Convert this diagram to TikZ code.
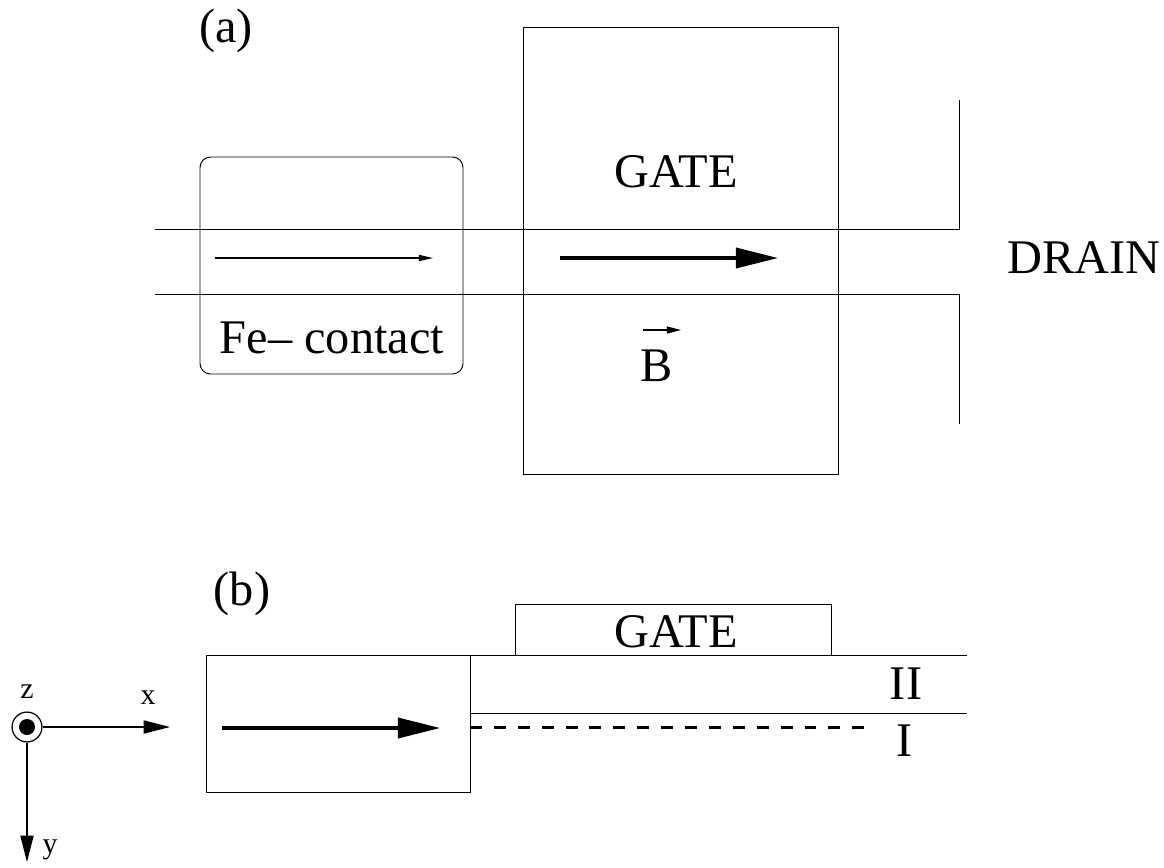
\documentclass[tikz,border=0pt]{standalone}
\usepackage{fontspec}
\setmainfont{Liberation Serif}
\usetikzlibrary{arrows.meta}
\tikzset{
    big/.style={line width=1.8pt,-{Triangle[length=24pt,width=11.5pt]}},
    mid/.style={line width=0.7pt,-{Triangle[length=15pt,width=7.5pt]}},
    tiny/.style={line width=0.6pt,-{Triangle[length=8pt,width=4pt]}},
    lab/.style={inner sep=0pt,font=\fontsize{27.5}{30}\selectfont},
    smalllab/.style={inner sep=0pt,font=\fontsize{17}{19}\selectfont},
    wire/.style={line width=0.55pt}
}
\begin{document}
\begin{tikzpicture}[x=0.02cm,y=-0.02cm]
    \useasboundingbox (0,0) rectangle (1164,867);
    % Coordinates of the top view (a)
    \coordinate (GA)  at (523,27);  % Gate top left
    \coordinate (GB)  at (838,474); % Gate bottom right
    \coordinate (FA)  at (200,157); % Contact top left
    \coordinate (FB)  at (463,374); % Contact bottom right
    \coordinate (TL)  at (155,229); % Channel top left
    \coordinate (TR)  at (959,229); % Channel top right
    \coordinate (TU)  at (959,100); % Drain top
    \coordinate (BL)  at (155,294); % Channel bottom left
    \coordinate (BR)  at (959,294); % Channel bottom right
    \coordinate (BD)  at (959,424); % Drain bottom
    \draw[wire] (GA) rectangle (GB);
    \draw[wire,rounded corners=6pt] (FA) rectangle (FB);
    \draw[wire] (TL) -- (TR) -- (TU);
    \draw[wire] (BL) -- (BR) -- (BD);
    \draw[mid,-{Triangle[length=8pt,width=3.5pt]}] (215,258) -- (433,258);
    \draw[big] (560,258) -- (778,258);
    \draw[tiny] (643,330) -- (681,330);
    \node[lab] (LA)  at (226,31)  {(a)};
    \node[lab] (LG)  at (676,172) {GATE};
    \node[lab] (LD)  at (1084,258) {DRAIN};
    \node[lab] (LF)  at (332,338) {Fe-- contact};
    \node[lab] (LB)  at (657,366) {B};
    % Coordinates of the side view (b)
    \coordinate (SA)  at (206,655); % Contact top left
    \coordinate (SB)  at (470,792); % Contact bottom right
    \coordinate (HA)  at (515,604); % Gate top left
    \coordinate (HB)  at (831,655); % Gate bottom right
    \coordinate (LT)  at (470,655);
    \coordinate (RT)  at (967,655);
    \coordinate (LM)  at (470,713);
    \coordinate (RM)  at (967,713);
    \coordinate (LE)  at (470,727);
    \coordinate (RE)  at (867,727);
    \draw[wire] (SA) rectangle (SB);
    \draw[wire] (HA) rectangle (HB);
    \draw[wire] (LT) -- (RT);
    \draw[wire] (LM) -- (RM);
    \draw[line width=1.7pt,dash pattern=on 6.8pt off 6.8pt] (LE) -- (RE);
    \draw[big] (222,728) -- (440,728);
    \node[lab] (LBB) at (242,594) {(b)};
    \node[lab] (LH)  at (676,632) {GATE};
    \node[lab] (LII) at (906,684) {II};
    \node[lab] (LI)  at (905,741) {I};
    % Axes
    \node[circle,draw,line width=0.7pt,minimum size=17pt,inner sep=0pt] (O) at (27,727) {};
    \fill (O.center) circle (8);
    \coordinate (X) at (170,727);
    \coordinate (Y) at (27,862);
    \draw[mid] (O) -- (X);
    \draw[mid] (O) -- (Y);
    \node[smalllab] (LX) at (148,698) {x};
    \node[smalllab] (LY) at (50,850)  {y};
    \node[smalllab] (LZ) at (27,692)  {z};
\end{tikzpicture}
\end{document}
